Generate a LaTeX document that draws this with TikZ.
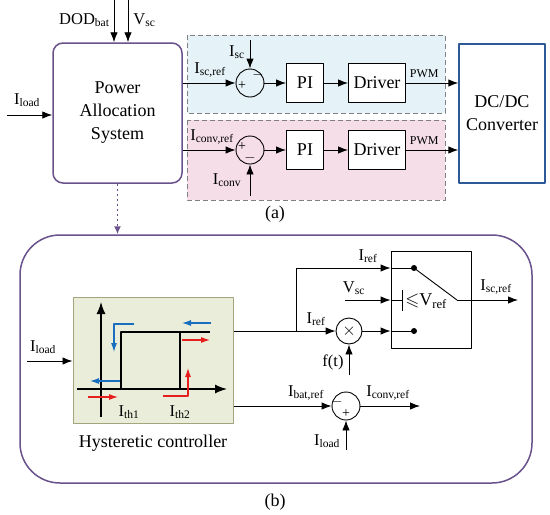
\documentclass[tikz,border=0pt]{standalone}
\usepackage{amssymb}
\usepackage{fontspec}
\setmainfont{Liberation Serif}
\usetikzlibrary{arrows.meta,positioning}

\definecolor{pasviolet}{RGB}{105,82,140}
\definecolor{convblue}{RGB}{45,90,150}
\definecolor{scfill}{RGB}{229,242,248}
\definecolor{convfill}{RGB}{246,222,232}
\definecolor{hystfill}{RGB}{233,237,217}
\definecolor{hystedge}{RGB}{165,165,125}
\definecolor{arrblue}{RGB}{25,110,190}
\definecolor{arrred}{RGB}{230,30,30}

\newcommand{\cur}[1]{I\textsubscript{#1}}

\tikzset{
  blk/.style={draw, line width=0.9pt, inner sep=0pt},
  sumc/.style={draw, circle, line width=0.9pt, minimum size=28pt, inner sep=0pt},
  lbl/.style={font=\fontsize{16.5}{18}\selectfont, inner sep=0pt},
  sgn/.style={font=\fontsize{14}{15}\selectfont, inner sep=0pt},
  zone/.style={draw=gray, dashed, line width=0.8pt, dash pattern=on 5pt off 3pt},
  hysarr/.style={line width=1.1pt, -{Latex[length=9pt,width=6pt]}}
}

\begin{document}
\begin{tikzpicture}[x=1pt, y=-1pt, line join=round, line width=0.9pt,
    >={Latex[length=10pt,width=7.5pt]}, font=\fontsize{18}{23}\selectfont]
  \useasboundingbox (0,0) rectangle (550,515);

  % part (a)
  \filldraw[zone, fill=scfill] (187,35) rectangle (445,113);
  \filldraw[zone, fill=convfill] (187,120) rectangle (445,200);

  \node[draw=pasviolet, line width=1.5pt, rounded corners=10pt, minimum width=129pt,
        minimum height=140pt, align=center] (pas) at (117.5,113) {Power\\Allocation\\System};
  \node[draw=convblue, line width=1.4pt, minimum width=86pt, minimum height=139pt,
        align=center, fill=white] (dcdc) at (502,113.5) {DC/DC\\Converter};

  \node[sumc] (s1) at (250,83) {};
  \node[blk, minimum width=37pt, minimum height=39pt, fill=white] (pi1) at (305,83) {PI};
  \node[blk, minimum width=57pt, minimum height=39pt, fill=white] (drv1) at (377,83) {Driver};
  \node[sumc] (s2) at (250,150) {};
  \node[blk, minimum width=37pt, minimum height=39pt, fill=white] (pi2) at (305,150) {PI};
  \node[blk, minimum width=57pt, minimum height=39pt, fill=white] (drv2) at (377,150) {Driver};

  \node[sgn] at (242,86) {+};
  \node[sgn] at (258,75) {$-$};
  \node[sgn] at (242,147) {+};
  \node[sgn] at (250,158) {$-$};

  \coordinate (dod) at (114,0);
  \coordinate (vs) at (128,0);
  \coordinate (ild) at (7,115);
  \coordinate (isc) at (250,40);
  \coordinate (icv) at (250,196);

  \draw[->] (dod) -- (dod |- pas.north);
  \draw[->] (vs) -- (vs |- pas.north);
  \draw[->] (ild) -- (pas.west |- ild);
  \draw[->] (pas.east |- s1) -- (s1);
  \draw[->] (pas.east |- s2) -- (s2);
  \draw[->] (isc) -- (s1);
  \draw[->] (icv) -- (s2);
  \draw[->] (s1) -- (pi1);
  \draw[->] (pi1) -- (drv1);
  \draw[->] (s2) -- (pi2);
  \draw[->] (pi2) -- (drv2);
  \draw[->] (drv1) -- (dcdc.west |- drv1) node[pos=0.35, above=2pt, font=\fontsize{12}{14}\selectfont] {PWM};
  \draw[->] (drv2) -- (dcdc.west |- drv2) node[pos=0.35, above=2pt, font=\fontsize{12}{14}\selectfont] {PWM};

  \node[lbl, left] at (110,20) {DOD\textsubscript{bat}};
  \node[lbl, right] at (133,20) {V\textsubscript{sc}};
  \node[lbl] at (27,100) {\cur{load}};
  \node[lbl] at (237,52) {\cur{sc}};
  \node[lbl] at (210,70) {\cur{sc,ref}};
  \node[lbl] at (212,137) {\cur{conv,ref}};
  \node[lbl] at (227,180) {\cur{conv}};
  \node at (275,214) {(a)};

  % part (b)
  \node[draw=pasviolet, line width=1.5pt, rounded corners=40pt, minimum width=512pt,
        minimum height=248pt] (bbox) at (276,359) {};
  \draw[->, pasviolet, line width=1.5pt, dash pattern=on 2.5pt off 2.5pt,
        >={Latex[length=8pt,width=7pt]}]
    (pas.south) -- (bbox.north -| pas.south);

  \node[draw=hystedge, fill=hystfill, line width=1pt, minimum width=160pt,
        minimum height=126pt] (hyst) at (153,360) {};
  \node at (153,443) {Hysteretic controller};

  \draw[line width=1.3pt, -{Latex[length=12pt,width=9pt]}] (77,389) -- (227,389);
  \draw[line width=1.3pt, -{Latex[length=12pt,width=9pt]}] (101,417) -- (101,302);
  \draw[line width=1.5pt] (121,389) -- (121,332) -- (210,332);
  \draw[line width=1.5pt] (180,389) -- (180,332);

  \draw[hysarr, arrblue] (134,324) -- (114,324) -- (114,352);
  \draw[hysarr, arrblue] (120,381) -- (90,381);
  \draw[hysarr, arrblue] (211,323) -- (182,323);
  \draw[hysarr, arrred] (88,397) -- (118,397);
  \draw[hysarr, arrred] (163,396) -- (188,396) -- (188,368);
  \draw[hysarr, arrred] (182,340) -- (210,340);

  \node[lbl] at (129,412) {\cur{th1}};
  \node[lbl] at (180,412) {\cur{th2}};

  \coordinate (hl) at (27,361);
  \draw[->] (hl) -- (hyst.west |- hl);
  \node[lbl] at (43,347) {\cur{load}};

  \node[blk, minimum width=80pt, minimum height=97pt] (sw) at (431,299.5) {};
  \node[sumc, minimum size=26pt] (mul) at (349,331) {$\times$};
  \node[sumc] (s3) at (346,406) {};
  \node[sgn] at (337,402) {$-$};
  \node[sgn] at (346,414) {+};

  \coordinate (br) at (296,331);
  \coordinate (d1) at (414,268);
  \coordinate (d2) at (414,331);
  \coordinate (sp) at (457,300);
  \coordinate (vsc) at (345,300);
  \coordinate (ft) at (349,375);
  \coordinate (isco) at (518,300);
  \coordinate (co) at (420,406);
  \coordinate (il2) at (346,450);

  \draw (hyst.east |- br) -- (br);
  \draw[->] (br) |- (sw.west |- d1);
  \draw (sw.west |- d1) -- (d1);
  \draw[->] (br) -- (mul);
  \draw[->] (mul) -- (sw.west |- d2);
  \draw (sw.west |- d2) -- (d2);
  \draw[->] (ft) -- (mul);
  \fill (d1) circle (3pt);
  \fill (d2) circle (3pt);
  \draw (d1) -- (sp);
  \draw[->] (sp) -- (isco);
  \draw[->] (vsc) -- (sw.west |- vsc);
  \draw (sw.west |- vsc) -- (402,300);
  \draw (402,290) -- (402,311);
  \node[right, inner sep=0pt] at (405,301) {$\leqslant$V\textsubscript{ref}};

  \draw[->] (hyst.east |- s3) -- (s3);
  \draw[->] (s3) -- (co);
  \draw[->] (il2) -- (s3);

  \node[lbl] at (368,256) {\cur{ref}};
  \node[lbl] at (316,319) {\cur{ref}};
  \node[lbl] at (354,288) {V\textsubscript{sc}};
  \node[lbl] at (496,287) {\cur{sc,ref}};
  \node[lbl] at (333,362) {f(t)};
  \node[lbl] at (306,393) {\cur{bat,ref}};
  \node[lbl] at (388,393) {\cur{conv,ref}};
  \node[lbl] at (327,441) {\cur{load}};
  \node at (275,502) {(b)};
\end{tikzpicture}
\end{document}
